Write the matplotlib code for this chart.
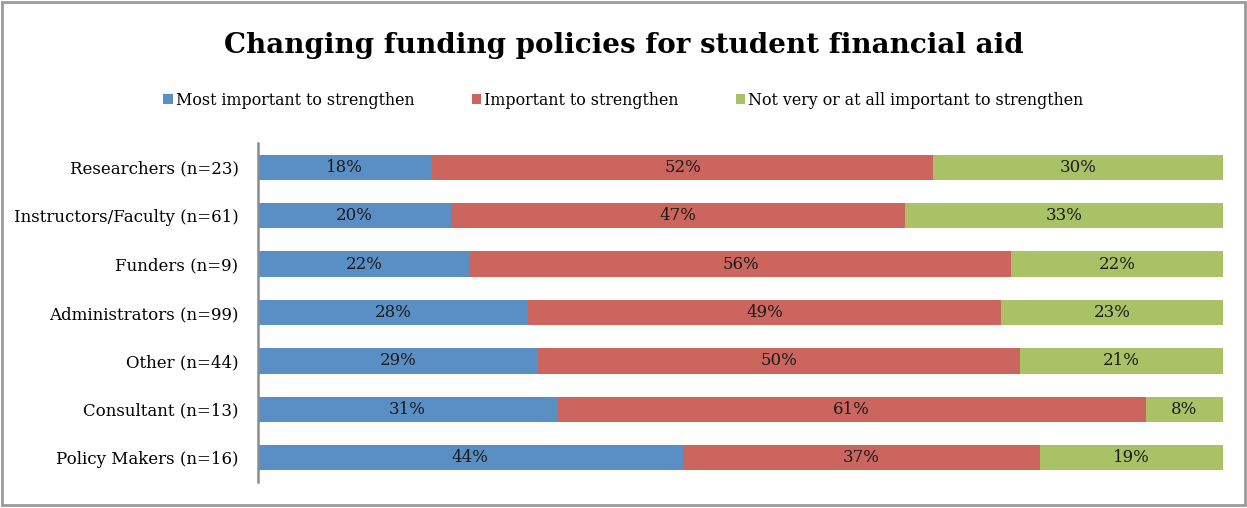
import numpy as np
import matplotlib.pyplot as plt
from matplotlib.patches import Rectangle

# survey groups, top to bottom
groups = ['Researchers (n=23)', 'Instructors/Faculty (n=61)', 'Funders (n=9)',
          'Administrators (n=99)', 'Other (n=44)', 'Consultant (n=13)',
          'Policy Makers (n=16)']
most_important = [18, 20, 22, 28, 29, 31, 44]
important = [52, 47, 56, 49, 50, 61, 37]
not_important = [30, 33, 22, 23, 21, 8, 19]

series_names = ['Most important to strengthen', 'Important to strengthen',
                'Not very or at all important to strengthen']
colors = ['#5A8FC6', '#CB655D', '#A9C266']

plt.rcParams['font.family'] = ['DejaVu Serif']

fig = plt.figure(figsize=(12.47, 5.08), dpi=100)
ax = fig.add_axes([0.2069, 0.0512, 0.7738, 0.6673])

y = np.arange(len(groups))
left = np.zeros(len(groups))
for vals, name, col in zip([most_important, important, not_important], series_names, colors):
    vals = np.array(vals, dtype=float)
    bars = ax.barh(y, vals, left=left, height=0.52, color=col, label=name, edgecolor='none')
    ax.bar_label(bars, labels=['%d%%' % v for v in vals], label_type='center',
                 fontsize=12, color='#1a1a1a')
    left += vals

ax.set_xlim(0, 100)
ax.set_ylim(len(groups) - 0.5, -0.5)
ax.set_yticks(y)
ax.set_yticklabels(groups, fontsize=12)
ax.tick_params(axis='y', length=0, pad=14)
ax.set_xticks([])
for s in ['top', 'right', 'bottom']:
    ax.spines[s].set_visible(False)
ax.spines['left'].set_color('#8c8c8c')
ax.spines['left'].set_linewidth(1.8)

fig.text(0.5, 0.91, 'Changing funding policies for student financial aid',
         ha='center', va='center', fontsize=20, fontweight='bold')

fig.legend(loc='center', bbox_to_anchor=(0.5, 0.803), ncol=3, frameon=False,
           fontsize=11.4, handlelength=0.6, handleheight=0.6, handletextpad=0.2,
           columnspacing=3.6)

# grey border around the chart area
fig.patches.append(Rectangle((0.002, 0.006), 0.996, 0.99, transform=fig.transFigure,
                             fill=False, edgecolor='#9a9a9a', linewidth=2))

fig.savefig('out.png', dpi=100)
